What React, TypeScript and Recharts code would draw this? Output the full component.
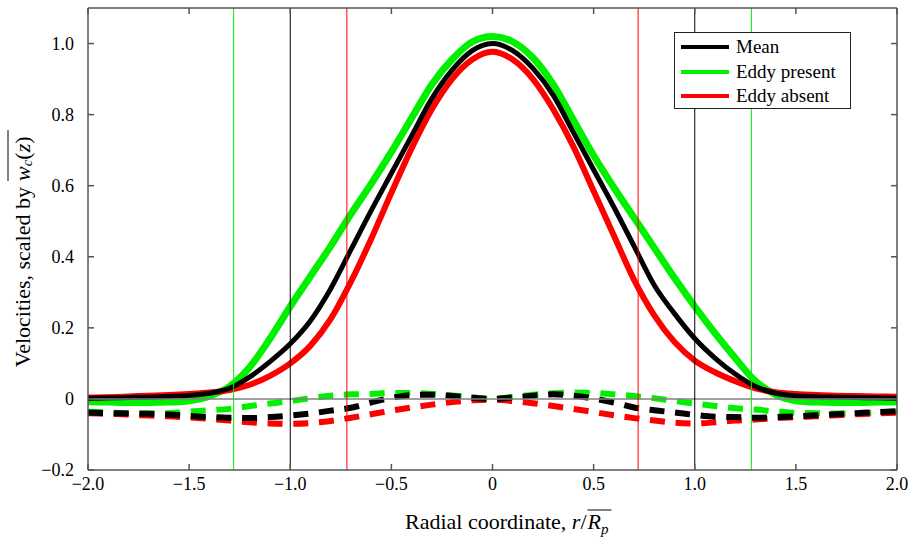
import { LineChart, Line, XAxis, YAxis, ReferenceLine, Legend } from "recharts";

// radial coordinate r / R_p
const radius = [
  -2, -1.9, -1.8, -1.7, -1.6, -1.5, -1.4, -1.3, -1.2, -1.1, -1, -0.9, -0.8, -0.7,
  -0.6, -0.5, -0.4, -0.3, -0.2, -0.1, 0, 0.1, 0.2, 0.3, 0.4, 0.5, 0.6, 0.7, 0.8,
  0.9, 1, 1.1, 1.2, 1.3, 1.4, 1.5, 1.6, 1.7, 1.8, 1.9, 2,
];

// solid curves (vertical velocity)
const meanSolid = [
  0.002, 0.003, 0.004, 0.005, 0.007, 0.01, 0.016, 0.03, 0.062, 0.105, 0.155, 0.22,
  0.31, 0.42, 0.53, 0.635, 0.74, 0.845, 0.925, 0.98, 1.0, 0.98, 0.93, 0.855, 0.75,
  0.645, 0.54, 0.43, 0.32, 0.24, 0.17, 0.115, 0.07, 0.035, 0.016, 0.009, 0.006,
  0.005, 0.004, 0.003, 0.002,
];
const presentSolid = [
  -0.008, -0.009, -0.01, -0.01, -0.009, -0.005, 0.008, 0.035, 0.09, 0.17, 0.26,
  0.345, 0.43, 0.52, 0.605, 0.695, 0.79, 0.885, 0.955, 1.005, 1.02, 1.005, 0.96,
  0.885, 0.785, 0.685, 0.595, 0.51, 0.425, 0.34, 0.26, 0.185, 0.115, 0.05, 0.012,
  -0.005, -0.009, -0.01, -0.01, -0.009, -0.008,
];
const absentSolid = [
  0.004, 0.005, 0.007, 0.009, 0.011, 0.014, 0.018, 0.025, 0.04, 0.065, 0.1, 0.15,
  0.225, 0.33, 0.45, 0.58, 0.705, 0.815, 0.9, 0.955, 0.977, 0.955, 0.9, 0.815, 0.71,
  0.585, 0.46, 0.335, 0.235, 0.16, 0.108, 0.075, 0.05, 0.03, 0.019, 0.014, 0.011,
  0.009, 0.008, 0.007, 0.006,
];

// dashed curves (radial velocity)
const meanDashed = [
  -0.038, -0.04, -0.041, -0.042, -0.044, -0.048, -0.051, -0.053, -0.054, -0.051,
  -0.047, -0.041, -0.033, -0.025, -0.01, 0.003, 0.011, 0.012, 0.008, 0.003, 0, 0.004,
  0.009, 0.013, 0.009, 0.001, -0.01, -0.024, -0.032, -0.038, -0.045, -0.05, -0.051,
  -0.053, -0.051, -0.049, -0.046, -0.043, -0.04, -0.037, -0.035,
];
const presentDashed = [
  -0.036, -0.038, -0.04, -0.04, -0.04, -0.036, -0.032, -0.028, -0.02, -0.013,
  -0.006, 0.002, 0.009, 0.013, 0.014, 0.017, 0.017, 0.014, 0.01, 0.005, 0, 0.006,
  0.012, 0.016, 0.018, 0.017, 0.013, 0.008, 0.002, -0.006, -0.013, -0.02, -0.026,
  -0.03, -0.035, -0.039, -0.04, -0.041, -0.04, -0.038, -0.035,
];
const absentDashed = [
  -0.04, -0.042, -0.044, -0.047, -0.049, -0.052, -0.056, -0.061, -0.066, -0.069,
  -0.07, -0.068, -0.062, -0.053, -0.043, -0.033, -0.024, -0.016, -0.009, -0.004,
  -0.002, -0.006, -0.012, -0.02, -0.028, -0.037, -0.046, -0.054, -0.061, -0.067,
  -0.069, -0.066, -0.061, -0.058, -0.054, -0.051, -0.049, -0.046, -0.043, -0.041,
  -0.039,
];

// plume radius markers
const meanRadius = [-1, 1];
const presentRadius = [-1.28, 1.28];
const absentRadius = [-0.72, 0.72];

const xTicks = [-2, -1.5, -1, -0.5, 0, 0.5, 1, 1.5, 2];
const xTickLabels = ["−2.0", "−1.5", "−1.0", "−0.5", "0", "0.5", "1.0", "1.5", "2.0"];
const yTicks = [-0.2, 0, 0.2, 0.4, 0.6, 0.8, 1.0];
const yTickLabels = ["−0.2", "0", "0.2", "0.4", "0.6", "0.8", "1.0"];

const legendNames = ["Mean", "Eddy present", "Eddy absent"];

const BLACK = "#000000";
const GREEN = "#00f000";
const RED = "#ff0000";
const FRAME = "#555555";
const FONT = "Liberation Serif, Times New Roman, Nimbus Roman, DejaVu Serif, serif";

const data = radius.map((r, i) => ({
  r,
  mean: meanSolid[i],
  present: presentSolid[i],
  absent: absentSolid[i],
  meanD: meanDashed[i],
  presentD: presentDashed[i],
  absentD: absentDashed[i],
}));

const tickStyle = { fill: "#000", fontSize: 18, fontFamily: FONT };

function LegendBox() {
  const colors = [BLACK, GREEN, RED];
  return (
    <div
      style={{
        border: "1px solid #222",
        background: "#fff",
        width: 177,
        height: 77,
        padding: "2px 0 0 6px",
        boxSizing: "border-box",
        fontFamily: FONT,
        fontSize: 19,
        lineHeight: "24.5px",
        color: "#000",
      }}
    >
      {legendNames.map((name, i) => (
        <div key={name} style={{ display: "flex", alignItems: "center", height: 24.5 }}>
          <span
            style={{
              display: "inline-block",
              width: 48,
              height: 4,
              background: colors[i],
              marginRight: 7,
            }}
          />
          {name}
        </div>
      ))}
    </div>
  );
}

// y label: plain part ends at the split, the overlined w_c(z) starts after it
function YLabel(props: any) {
  const vb = props.viewBox;
  const cx = vb.x + 22;
  const cy = vb.y + vb.height / 2 + 6;
  const split = cx + 58;
  return (
    <g transform={`rotate(-90, ${cx}, ${cy})`} fontFamily={FONT} fontSize={22} fill="#000">
      <text x={split} y={cy} textAnchor="end" dominantBaseline="central">
        Velocities, scaled by
      </text>
      <text x={split + 6} y={cy} textAnchor="start" dominantBaseline="central">
        <tspan fontStyle="italic">w</tspan>
        <tspan fontStyle="italic" fontSize={15} dy={5}>c</tspan>
        <tspan dy={-5}>(</tspan>
        <tspan fontStyle="italic">z</tspan>
        <tspan>)</tspan>
      </text>
      <line x1={split + 6} x2={split + 57} y1={cy - 14} y2={cy - 14} stroke="#000" strokeWidth={1} />
    </g>
  );
}

function XLabel(props: any) {
  const vb = props.viewBox;
  const split = vb.x + vb.width / 2 + 94;
  const base = vb.y + 59;
  return (
    <g fontFamily={FONT} fontSize={22} fill="#000">
      <text x={split} y={base} textAnchor="end">
        Radial coordinate, <tspan fontStyle="italic">r</tspan>/
      </text>
      <text x={split + 1} y={base} textAnchor="start">
        <tspan fontStyle="italic">R</tspan>
        <tspan fontStyle="italic" fontSize={15} dy={5}>p</tspan>
      </text>
      <line x1={split + 1} x2={split + 25} y1={base - 19} y2={base - 19} stroke="#000" strokeWidth={1} />
    </g>
  );
}

export default function App() {
  return (
    <div style={{ position: "absolute", left: 0, top: 0 }}>
      <LineChart
        width={915}
        height={541}
        data={data}
        margin={{ top: 0, right: 0, bottom: 0, left: 0 }}
      >
        <XAxis
          xAxisId="b"
          dataKey="r"
          type="number"
          domain={[-2, 2]}
          ticks={xTicks}
          tickFormatter={(v: number) => xTickLabels[xTicks.indexOf(v)] ?? ""}
          tick={tickStyle}
          tickSize={-6}
          tickMargin={13}
          tickLine={{ stroke: FRAME, strokeWidth: 1.5 }}
          axisLine={{ stroke: FRAME, strokeWidth: 1.5 }}
          height={71}
          interval={0}
          label={<XLabel />}
        />
        <XAxis
          xAxisId="t"
          orientation="top"
          dataKey="r"
          type="number"
          domain={[-2, 2]}
          ticks={xTicks}
          tickFormatter={() => ""}
          tickSize={-6}
          tickLine={{ stroke: FRAME, strokeWidth: 1.5 }}
          axisLine={{ stroke: FRAME, strokeWidth: 1.5 }}
          height={8}
          interval={0}
        />
        <YAxis
          yAxisId="l"
          type="number"
          domain={[-0.2, 1.1]}
          ticks={yTicks}
          tickFormatter={(v: number) => yTickLabels[yTicks.indexOf(v)] ?? ""}
          tick={tickStyle}
          tickSize={-6}
          tickMargin={20}
          tickLine={{ stroke: FRAME, strokeWidth: 1.5 }}
          axisLine={{ stroke: FRAME, strokeWidth: 1.5 }}
          width={88}
          interval={0}
          allowDataOverflow
          label={<YLabel />}
        />
        <YAxis
          yAxisId="r"
          orientation="right"
          type="number"
          domain={[-0.2, 1.1]}
          ticks={yTicks}
          tickFormatter={() => ""}
          tickSize={-6}
          tickLine={{ stroke: FRAME, strokeWidth: 1.5 }}
          axisLine={{ stroke: FRAME, strokeWidth: 1.5 }}
          width={18}
          interval={0}
          allowDataOverflow
        />

        {/* radial velocity, dashed */}
        <Line xAxisId="b" yAxisId="l" type="monotone" dataKey="presentD" stroke={GREEN} strokeWidth={6} strokeDasharray="15 10.7" dot={false} isAnimationActive={false} legendType="none" />
        <Line xAxisId="b" yAxisId="l" type="monotone" dataKey="absentD" stroke={RED} strokeWidth={6} strokeDasharray="15 10.7" dot={false} isAnimationActive={false} legendType="none" />
        <Line xAxisId="b" yAxisId="l" type="monotone" dataKey="meanD" stroke={BLACK} strokeWidth={6} strokeDasharray="15 10.7" dot={false} isAnimationActive={false} legendType="none" />

        {/* vertical velocity, solid */}
        <Line xAxisId="b" yAxisId="l" type="monotone" dataKey="present" name="Eddy present" stroke={GREEN} strokeWidth={7} dot={false} isAnimationActive={false} />
        <Line xAxisId="b" yAxisId="l" type="monotone" dataKey="absent" name="Eddy absent" stroke={RED} strokeWidth={6} dot={false} isAnimationActive={false} />
        <Line xAxisId="b" yAxisId="l" type="monotone" dataKey="mean" name="Mean" stroke={BLACK} strokeWidth={5} dot={false} isAnimationActive={false} />

        <ReferenceLine xAxisId="b" yAxisId="l" y={0} stroke="#808080" strokeWidth={1.5} />
        {presentRadius.map((x) => (
          <ReferenceLine key={"p" + x} xAxisId="b" yAxisId="l" x={x} stroke={GREEN} strokeWidth={1} />
        ))}
        {meanRadius.map((x) => (
          <ReferenceLine key={"m" + x} xAxisId="b" yAxisId="l" x={x} stroke={BLACK} strokeWidth={1} />
        ))}
        {absentRadius.map((x) => (
          <ReferenceLine key={"a" + x} xAxisId="b" yAxisId="l" x={x} stroke={RED} strokeWidth={1} />
        ))}

        <Legend
          layout="vertical"
          align="center"
          verticalAlign="middle"
          content={<LegendBox />}
          wrapperStyle={{ position: "absolute", left: 674, top: 32, width: 177, height: 77 }}
        />
      </LineChart>
    </div>
  );
}
